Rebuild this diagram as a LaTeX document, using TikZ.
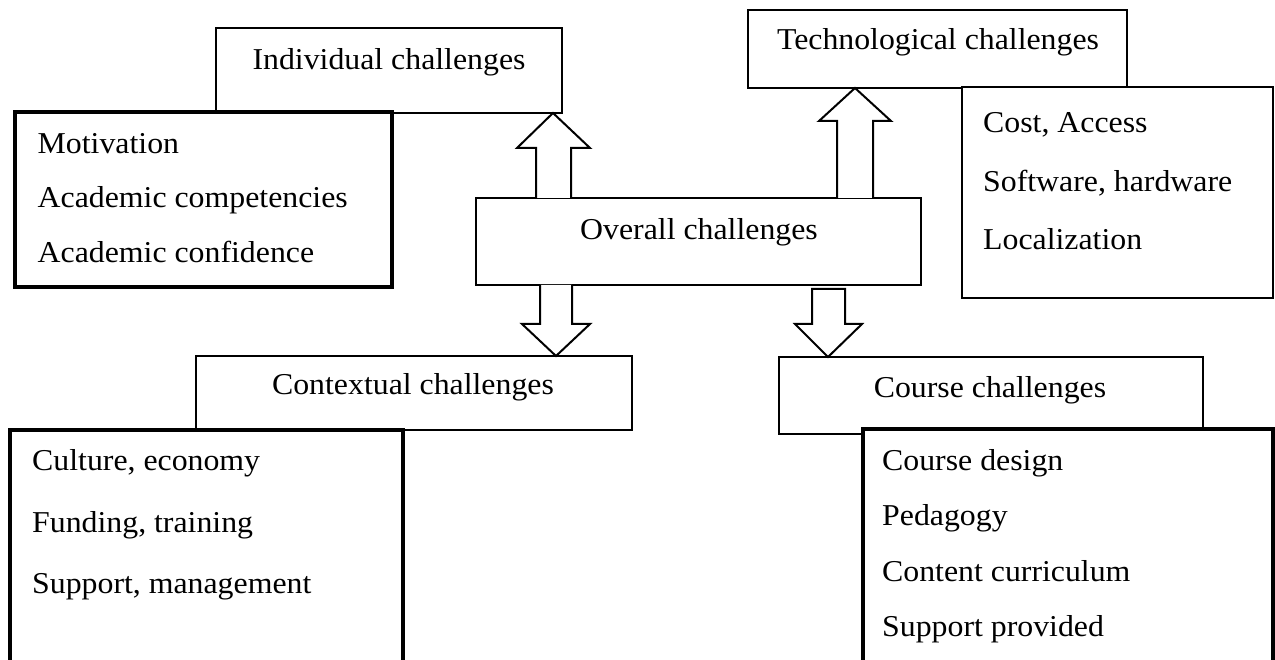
\documentclass[tikz,border=0pt]{standalone}
\usepackage{fontspec}
\setmainfont{Liberation Serif}[FakeStretch=1.05]
\begin{document}
\begin{tikzpicture}[x=1pt,y=-1pt,
  every node/.style={font=\fontsize{30.3}{36}\selectfont},
  box/.style={draw,line width=2pt,fill=white,inner sep=0pt,outer sep=0pt,anchor=north west},
  listbox/.style={box,line width=3.4pt},
  title/.style={anchor=base},
  item/.style={anchor=base west,inner sep=0pt},
  blk/.style={draw,line width=2pt,fill=white,line join=miter}]
\useasboundingbox (0,0) rectangle (1275,660);
\clip (0,0) rectangle (1275,660);

% category boxes with their item lists
\node[box,minimum width=346,minimum height=85] (ind) at (216,28) {};
\node[listbox,minimum width=377,minimum height=175] (indl) at (15,112) {};
\node[box,minimum width=379,minimum height=78] (tech) at (748,10) {};
\node[box,minimum width=311,minimum height=211] (techl) at (962,87) {};
\node[box,minimum width=445,minimum height=87] (ov) at (476,198) {};
\node[box,minimum width=436,minimum height=74] (ctx) at (196,356) {};
\node[listbox,minimum width=393,minimum height=260] (ctxl) at (10,430) {};
\node[box,minimum width=424,minimum height=77] (crs) at (779,357) {};
\node[listbox,minimum width=410,minimum height=260] (crsl) at (863,429) {};

% titles
\node[title] (indt) at (389,70) {Individual challenges};
\node[title] (techt) at (938,50) {Technological challenges};
\node[title] (ovt) at (699,240) {Overall challenges};
\node[title] (ctxt) at (413,395) {Contextual challenges};
\node[title] (crst) at (990,397) {Course challenges};

% item lists
\node[item] (i1) at (37.5,154) {Motivation};
\node[item] (i2) at (37.5,208) {Academic competencies};
\node[item] (i3) at (37.5,263) {Academic confidence};

\node[item] (t1) at (983,133) {Cost, Access};
\node[item] (t2) at (983,192) {Software, hardware};
\node[item] (t3) at (983,250) {Localization};

\node[item] (c1) at (32,470) {Culture, economy};
\node[item] (c2) at (32,532) {Funding, training};
\node[item] (c3) at (32,593) {Support, management};

\node[item] (k1) at (882,470) {Course design};
\node[item] (k2) at (882,525) {Pedagogy};
\node[item] (k3) at (882,581) {Content curriculum};
\node[item] (k4) at (882,636) {Support provided};

% block arrows from the overall box
\draw[blk] (536,0 |- ov.north) -- (536,148) -- (517,148) -- (553,0 |- ind.south)
  -- (590,148) -- (571,148) -- (571,0 |- ov.north);
\draw[blk] (837,0 |- ov.north) -- (837,121) -- (819,121) -- (855,0 |- tech.south)
  -- (891,121) -- (873,121) -- (873,0 |- ov.north);
\draw[blk] (540,0 |- ov.south) -- (540,324) -- (522,324) -- (556,0 |- ctx.north)
  -- (590,324) -- (572,324) -- (572,0 |- ov.south);
\draw[blk] (812,289) -- (812,324) -- (795,324) -- (828,0 |- crs.north)
  -- (862,324) -- (845,324) -- (845,289) -- cycle;
\end{tikzpicture}
\end{document}
